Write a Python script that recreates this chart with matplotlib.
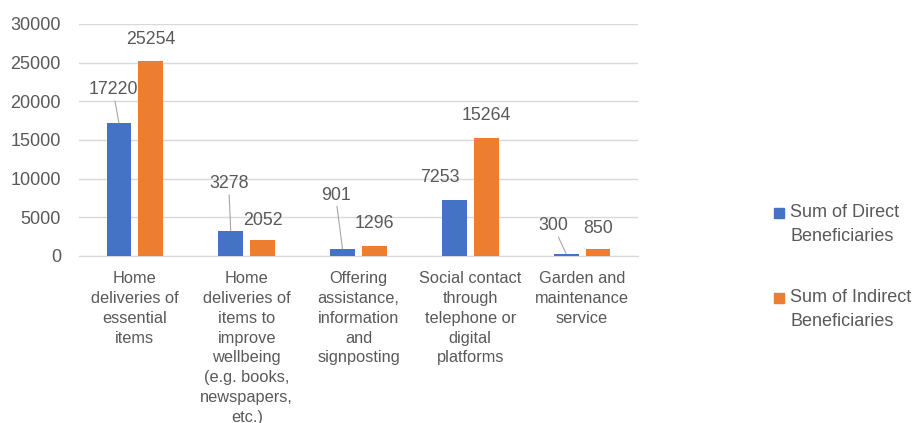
import numpy as np
import matplotlib.pyplot as plt
from matplotlib.patches import Rectangle

plt.rcParams['font.family'] = ['Liberation Sans', 'DejaVu Sans']

categories = [
    "Home\ndeliveries of\nessential\nitems",
    "Home\ndeliveries of\nitems to\nimprove\nwellbeing\n(e.g. books,\nnewspapers,\netc.)",
    "Offering\nassistance,\ninformation\nand\nsignposting",
    "Social contact\nthrough\ntelephone or\ndigital\nplatforms",
    "Garden and\nmaintenance\nservice",
]
direct = [17220, 3278, 901, 7253, 300]
indirect = [25254, 2052, 1296, 15264, 850]
series_names = ["Sum of Direct\nBeneficiaries", "Sum of Indirect\nBeneficiaries"]
yticks = [0, 5000, 10000, 15000, 20000, 25000, 30000]

blue = '#4472C4'
orange = '#ED7D31'
txt = '#595959'
grid = '#d9d9d9'

# label offsets (pixels from bar top) and whether a leader line is drawn
direct_off = [(-6, 33, True), (-2, 47, True), (-7, 54, True), (-14, 22, False), (-13, 28, True)]
indirect_off = [(0, 21, False), (0, 20, False), (0, 22, False), (0, 22, False), (0, 21, False)]

W, H = 914, 423
fig = plt.figure(figsize=(W / 100, H / 100), dpi=100)
ax = fig.add_axes([79 / W, 1 - 256 / H, (638 - 79) / W, (256 - 24) / H])

x = np.arange(len(categories))
bw = 0.222
off = 0.143
ax.bar(x - off, direct, bw, color=blue, zorder=3)
ax.bar(x + off, indirect, bw, color=orange, zorder=3)

ax.set_xlim(-0.5, len(categories) - 0.5)
ax.set_ylim(0, 30000)
ax.set_yticks(yticks)
ax.set_yticklabels([str(v) for v in yticks], fontsize=13)
ax.yaxis.grid(True, color=grid, lw=1, zorder=0)
ax.set_xticks(x)
ax.set_xticklabels(categories, linespacing=1.4, fontsize=11.8)
for s in ['top', 'right', 'left']:
    ax.spines[s].set_visible(False)
ax.spines['bottom'].set_color(grid)
ax.tick_params(axis='both', length=0, colors=txt)
ax.tick_params(axis='y', pad=13)
ax.tick_params(axis='x', pad=11)

px = 72 / 100
for xs, vals, offs in [(x - off, direct, direct_off), (x + off, indirect, indirect_off)]:
    for xi, v, (dx, dy, lead) in zip(xs, vals, offs):
        kw = {}
        if lead:
            kw['arrowprops'] = dict(arrowstyle='-', color='#a6a6a6', lw=0.8,
                                    shrinkA=0, shrinkB=0)
        ax.annotate(str(v), xy=(xi, v), xytext=(dx * px, dy * px),
                    textcoords='offset points', ha='center', va='center',
                    fontsize=12.8, color=txt, **kw)

# legend on the right
for name, col, yc in [(series_names[0], blue, 213), (series_names[1], orange, 298)]:
    fig.patches.append(Rectangle((774 / W, 1 - (yc + 5) / H), 10 / W, 10 / H,
                                 transform=fig.transFigure, color=col))
    fig.text(790 / W, 1 - (yc - 9) / H, name, ha='left', va='top',
             fontsize=13, color=txt, linespacing=1.5)

fig.savefig('out.png', dpi=100, facecolor='white')
